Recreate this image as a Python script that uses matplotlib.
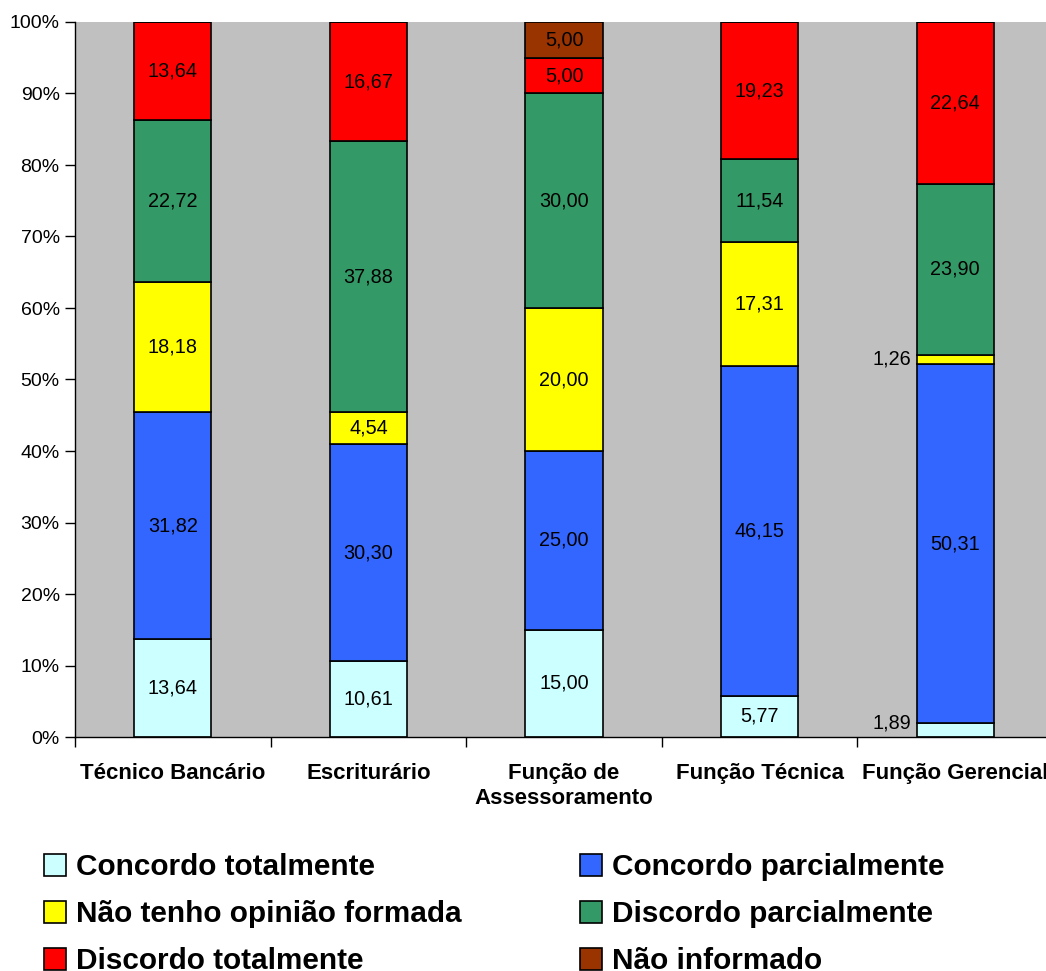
import matplotlib
matplotlib.use("Agg")
import matplotlib.pyplot as plt
from matplotlib.patches import Patch
import numpy as np

categories = ["Técnico Bancário", "Escriturário", "Função de\nAssessoramento",
              "Função Técnica", "Função Gerencial"]
series_names = ["Concordo totalmente", "Concordo parcialmente", "Não tenho opinião formada",
                "Discordo parcialmente", "Discordo totalmente", "Não informado"]
concordo_totalmente = [13.64, 10.61, 15.00, 5.77, 1.89]
concordo_parcialmente = [31.82, 30.30, 25.00, 46.15, 50.31]
nao_tenho_opiniao = [18.18, 4.54, 20.00, 17.31, 1.26]
discordo_parcialmente = [22.72, 37.88, 30.00, 11.54, 23.90]
discordo_totalmente = [13.64, 16.67, 5.00, 19.23, 22.64]
nao_informado = [0.0, 0.0, 5.00, 0.0, 0.0]
colors = ["#CCFFFF", "#3366FF", "#FFFF00", "#339966", "#FF0000", "#993300"]

series = [concordo_totalmente, concordo_parcialmente, nao_tenho_opiniao,
          discordo_parcialmente, discordo_totalmente, nao_informado]

plt.rcParams['font.family'] = ['Liberation Sans', 'DejaVu Sans']

W, H = 1046, 971
fig = plt.figure(figsize=(W/100, H/100), dpi=100)
ax = fig.add_axes([75/W, 1-737/H, 978/W, 715/H])
ax.set_facecolor("#C0C0C0")

x = np.arange(len(categories))
bottom = np.zeros(len(categories))
bw = 0.394
for si, (vals, col) in enumerate(zip(series, colors)):
    vals = np.array(vals)
    ax.bar(x, vals, bw, bottom=bottom, color=col, edgecolor="black", linewidth=1.2, zorder=2)
    for i, v in enumerate(vals):
        if v <= 0:
            continue
        yc = bottom[i] + v/2
        txt = f"{v:.2f}".replace(".", ",")
        if v < 3:
            off = 1.0 if si == 0 else 0.0
            ax.text(x[i] - bw/2 - 0.03, yc + off, txt, ha="right", va="center",
                    fontsize=14.3, color="black", zorder=3)
        else:
            ax.text(x[i], yc, txt, ha="center", va="center", fontsize=14.3, color="black", zorder=3)
    bottom += vals

ax.set_xlim(-0.5, 4.5)
ax.set_ylim(0, 100)
ax.set_yticks(np.arange(0, 101, 10))
ax.set_yticklabels([f"{v}%" for v in range(0, 101, 10)], fontsize=14)
ax.set_xticks(np.arange(-0.5, 5, 1.0))
ax.set_xticklabels([])
ax.set_xticks(x, minor=True)
ax.set_xticklabels(categories, minor=True, fontsize=16, fontweight="bold", linespacing=1.2)
ax.tick_params(axis="x", which="minor", length=0, pad=19)
ax.tick_params(axis="x", which="major", length=7, direction="out", width=1)
ax.tick_params(axis="y", length=7, direction="out", width=1, pad=4)
for s in ["top", "right"]:
    ax.spines[s].set_visible(False)
ax.spines["left"].set_linewidth(1)
ax.spines["bottom"].set_linewidth(1)

handles = [Patch(facecolor=c, edgecolor="black", linewidth=1.2) for c in colors]
order = [0, 2, 4, 1, 3, 5]
fig.legend([handles[i] for i in order], [series_names[i] for i in order],
           loc="upper left", bbox_to_anchor=(44/W, 1-853/H), ncol=2, frameon=False,
           prop={"size": 21.4, "weight": "bold"}, handlelength=0.75, handleheight=0.75,
           handletextpad=0.34, labelspacing=0.64, columnspacing=3.97,
           borderpad=0, borderaxespad=0)

fig.savefig("out.png", dpi=100)
